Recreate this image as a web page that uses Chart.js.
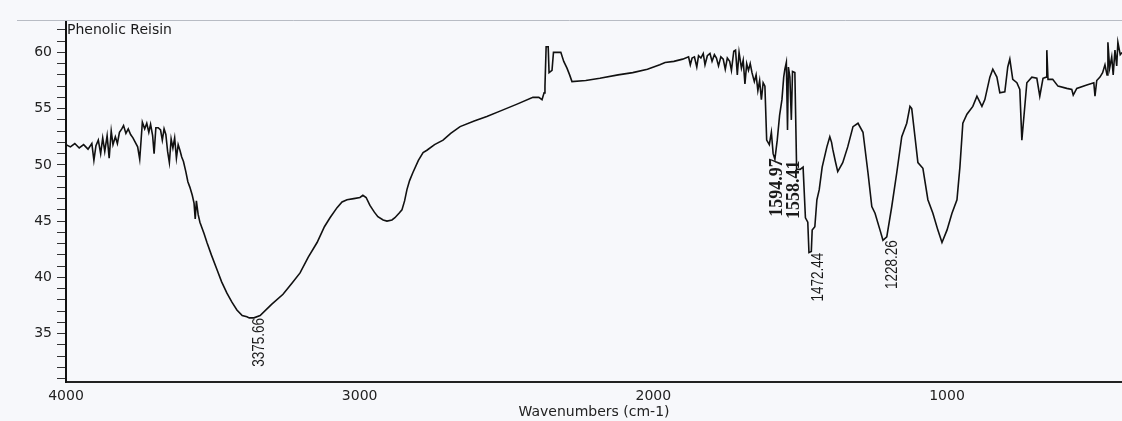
<!DOCTYPE html>
<html>
<head>
<meta charset="utf-8">
<script src="https://cdn.jsdelivr.net/npm/chart.js@4"></script>
<style>
  html, body { margin: 0; padding: 0; background: #f7f8fb; }
  #wrap { width: 1122px; height: 421px; position: relative; }
</style>
</head>
<body>
<div id="wrap"><canvas id="ftir"></canvas></div>
<script>
// spectrum (cm-1, %T)
const wavenumbers = [
  4000, 3985, 3970, 3955, 3940, 3925, 3912, 3905, 3898, 3890, 3882, 3875, 3868, 3860, 3853, 3846,
  3840, 3832, 3825, 3818, 3810, 3804, 3796, 3788, 3780, 3772, 3764, 3756, 3749, 3744, 3740, 3732,
  3725, 3718, 3712, 3705, 3700, 3694, 3686, 3678, 3672, 3666, 3660, 3654, 3648, 3642, 3636, 3630,
  3624, 3618, 3612, 3606, 3600, 3592, 3585, 3578, 3570, 3564, 3560, 3556, 3550, 3544, 3530, 3520,
  3505, 3486, 3470, 3452, 3435, 3418, 3400, 3384, 3376, 3360, 3339, 3300, 3261, 3230, 3203, 3175,
  3145, 3120, 3101, 3077, 3060, 3043, 3020, 2999, 2989, 2978, 2965, 2950, 2938, 2920, 2907, 2890,
  2880, 2866, 2856, 2847, 2839, 2830, 2819, 2800, 2784, 2771, 2745, 2716, 2690, 2658, 2610, 2567,
  2520, 2464, 2410, 2390, 2379, 2372, 2369, 2365, 2358, 2355, 2345, 2340, 2315, 2305, 2294, 2285,
  2277, 2230, 2182, 2120, 2070, 2020, 1978, 1960, 1930, 1900, 1880, 1874, 1868, 1860, 1852, 1846,
  1838, 1830, 1824, 1816, 1807, 1800, 1792, 1785, 1778, 1770, 1762, 1755, 1748, 1740, 1734, 1726,
  1720, 1714, 1708, 1700, 1694, 1688, 1682, 1676, 1670, 1664, 1656, 1650, 1644, 1638, 1632, 1626,
  1620, 1614, 1605, 1598, 1592, 1586, 1578, 1570, 1562, 1556, 1552, 1547, 1543, 1540, 1535, 1530,
  1526, 1518, 1512, 1500, 1490, 1482, 1474, 1470, 1462, 1459, 1450, 1443, 1435, 1425, 1409, 1399,
  1393, 1389, 1380, 1372, 1355, 1338, 1320, 1303, 1286, 1269, 1256, 1245, 1228, 1218, 1205, 1188,
  1171, 1154, 1137, 1126, 1120, 1109, 1099, 1082, 1065, 1048, 1031, 1017, 1000, 983, 966, 956,
  946, 932, 912, 898, 881, 871, 854, 844, 830, 820, 803, 793, 786, 776, 762, 752,
  745, 738, 728, 711, 694, 684, 673, 662, 660, 656, 640, 622, 592, 575, 570, 558,
  524, 500, 496, 490, 479, 470, 462, 455, 452, 446, 439, 434, 428, 422, 418, 410, 404
];
const transmittance = [
  51.8, 51.6, 51.9, 51.5, 51.8, 51.4, 51.9, 50.4, 51.7, 52.2, 51.0, 52.4, 51.2, 52.6, 50.6, 53.0,
  51.8, 52.5, 51.9, 52.9, 53.2, 53.5, 52.8, 53.2, 52.7, 52.4, 52.0, 51.6, 50.5, 52.3, 53.8, 53.2,
  53.7, 52.9, 53.6, 52.6, 51.0, 53.3, 53.3, 53.1, 52.2, 53.2, 52.7, 51.2, 50.2, 52.3, 51.5, 52.4,
  50.6, 51.8, 51.3, 50.7, 50.3, 49.4, 48.5, 48.0, 47.3, 46.6, 45.2, 46.8, 45.6, 44.9, 43.9, 43.1,
  42.0, 40.7, 39.6, 38.6, 37.8, 37.1, 36.6, 36.5, 36.4, 36.4, 36.6, 37.6, 38.5, 39.5, 40.4, 41.8,
  43.1, 44.5, 45.3, 46.2, 46.7, 46.9, 47.0, 47.1, 47.3, 47.1, 46.4, 45.8, 45.4, 45.1, 45.0, 45.1,
  45.3, 45.7, 46.0, 46.8, 47.8, 48.6, 49.3, 50.4, 51.1, 51.3, 51.8, 52.2, 52.8, 53.4, 53.9, 54.3,
  54.8, 55.4, 56.0, 56.0, 55.8, 56.4, 57.0, 60.5, 60.5, 58.2, 58.4, 60.0, 60.0, 59.2, 58.6, 58.0,
  57.4, 57.5, 57.7, 58.0, 58.2, 58.5, 58.9, 59.1, 59.2, 59.4, 59.6, 58.9, 59.5, 59.6, 58.7, 59.7,
  59.5, 59.9, 58.9, 59.7, 59.9, 59.2, 59.8, 59.5, 58.8, 59.6, 59.4, 58.5, 59.5, 59.2, 58.4, 60.1,
  60.2, 58.0, 60.0, 58.6, 59.3, 57.2, 59.0, 58.4, 59.0, 58.2, 57.4, 58.0, 56.6, 57.5, 55.8, 57.3,
  57.0, 52.2, 51.8, 52.9, 51.0, 50.5, 52.2, 54.4, 55.8, 57.8, 58.5, 59.1, 53.1, 58.7, 57.8, 54.0,
  58.3, 58.2, 49.6, 49.6, 49.8, 45.3, 44.9, 42.2, 42.3, 44.2, 44.5, 46.9, 47.8, 49.8, 51.6, 52.5,
  52.0, 51.4, 50.3, 49.4, 50.2, 51.6, 53.4, 53.7, 52.9, 49.3, 46.3, 45.7, 44.2, 43.3, 43.6, 46.3,
  49.3, 52.5, 53.7, 55.2, 55.0, 52.5, 50.2, 49.7, 46.9, 45.7, 44.2, 43.1, 44.2, 45.7, 46.9, 49.8,
  53.7, 54.5, 55.2, 56.1, 55.2, 55.8, 57.8, 58.5, 57.8, 56.4, 56.5, 58.7, 59.4, 57.6, 57.3, 56.7,
  52.2, 54.3, 57.3, 57.8, 57.7, 56.1, 57.7, 57.8, 60.2, 57.6, 57.6, 57.0, 56.8, 56.7, 56.2, 56.8,
  57.1, 57.3, 56.1, 57.5, 57.8, 58.2, 58.9, 58.0, 60.9, 58.6, 59.6, 58.0, 60.2, 58.8, 60.9, 59.8, 60.0
];
const xTicks = [1000, 2000, 3000, 4000];
const yTicks = [31,32,33,34,35,36,37,38,39,40,41,42,43,44,45,46,47,48,49,50,51,52,53,54,55,56,57,58,59,60,61,62];

// peak annotations: text, wavenumber, %T where the text starts
const peakText  = ['3375.66', '1594.97', '1558.41', '1472.44', '1228.26'];
const peakWave  = [3375.66, 1594.97, 1558.41, 1472.44, 1228.26];
const peakTop   = [36.4, 50.6, 50.4, 42.2, 43.3];
const peakSerif = [false, true, true, false, false];
const peakShift = [10, 5, 11, 10, 13]; // px right of the peak, text centre

const sampleName = 'Phenolic Reisin';

const annot = {
  id: 'annot',
  afterDatasetsDraw(chart) {
    const {ctx, chartArea, scales} = chart;
    ctx.save();
    // thin frame line across the top
    ctx.strokeStyle = '#b8bcc4';
    ctx.lineWidth = 1;
    ctx.beginPath();
    ctx.moveTo(17, chartArea.top - 1.5);
    ctx.lineTo(chart.width, chartArea.top - 1.5);
    ctx.stroke();

    ctx.fillStyle = '#1a1a1a';
    ctx.font = '14px "DejaVu Sans"';
    ctx.textAlign = 'left';
    ctx.textBaseline = 'top';
    ctx.fillText(sampleName, chartArea.left + 1, chartArea.top + 1);

    peakText.forEach((t, i) => {
      const px = scales.x.getPixelForValue(peakWave[i]);
      const py = scales.y.getPixelForValue(peakTop[i]);
      ctx.save();
      ctx.translate(px + peakShift[i], py);
      ctx.rotate(-Math.PI / 2);
      ctx.textAlign = 'right';
      ctx.textBaseline = 'middle';
      if (peakSerif[i]) {
        ctx.font = 'bold 18px "Liberation Serif"';
      } else {
        ctx.font = '13.5px "Liberation Sans"';
        ctx.scale(1, 1.2);
      }
      ctx.fillText(t, 0, 0);
      ctx.restore();
    });
    ctx.restore();
  }
};

new Chart(document.getElementById('ftir'), {
  type: 'line',
  data: {
    datasets: [{
      data: wavenumbers.map((w, i) => ({x: w, y: transmittance[i]})),
      borderColor: '#111',
      borderWidth: 1.6,
      pointRadius: 0,
      tension: 0,
      fill: false
    }]
  },
  options: {
    responsive: true,
    maintainAspectRatio: false,
    animation: false,
    layout: {padding: {top: 22, right: 0, bottom: 0, left: 0}},
    plugins: {legend: {display: false}, tooltip: {enabled: false}},
    scales: {
      x: {
        type: 'linear',
        reverse: true,
        min: 404,
        max: 4000,
        afterBuildTicks: s => { s.ticks = xTicks.map(v => ({value: v})); },
        afterFit: s => { s.height = 39; },
        grid: {drawOnChartArea: false, drawTicks: false},
        border: {color: '#222', width: 2},
        ticks: {color: '#222', font: {family: 'DejaVu Sans', size: 14}, padding: 6, maxRotation: 0,
                callback: v => String(v)},
        title: {display: true, text: 'Wavenumbers (cm-1)', color: '#222',
                font: {family: 'DejaVu Sans', size: 14}, padding: {top: 0, bottom: 0}}
      },
      y: {
        min: 30.7,
        max: 62.7,
        afterBuildTicks: s => { s.ticks = yTicks.map(v => ({value: v})); },
        afterFit: s => { s.width = 66; },
        grid: {drawOnChartArea: false, drawTicks: true, tickLength: 9, color: '#333'},
        border: {color: '#111', width: 2},
        ticks: {
          autoSkip: false,
          color: '#222',
          font: {family: 'DejaVu Sans', size: 14},
          padding: 5,
          callback: v => (v % 5 === 0 ? String(v) : '')
        }
      }
    }
  },
  plugins: [annot]
});
</script>
</body>
</html>
